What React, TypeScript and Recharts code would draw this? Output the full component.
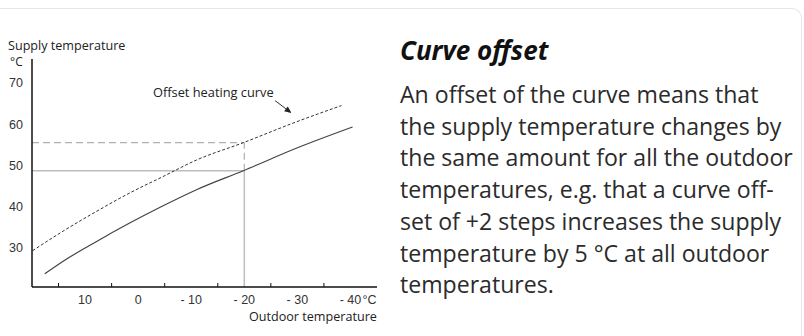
import { LineChart, Line, XAxis, YAxis, ReferenceLine } from 'recharts';

// heating curve, outdoor temp (°C) -> supply temp (°C)
const baseOutdoor = [17.6, 14.2, 7.9, 1.6, -4.7, -11.0, -19.8, -29.9, -40.4];
const baseSupply = [23.7, 26.7, 31.5, 36.0, 40.2, 44.1, 48.7, 54.2, 59.3];
const offsetOutdoor = [19.9, 14.2, 7.9, 1.6, -4.7, -11.0, -19.8, -29.9, -38.3];
const offsetSupply = [29.3, 34.0, 38.8, 43.3, 47.3, 51.3, 55.5, 60.6, 64.5];

const outdoorLabels = [10, 0, -10, -20, -30, -40];
const outdoorMarks = [15, 5, -5, -15, -25, -35];
const supplyTicks = [30, 40, 50, 60, 70];

const designOutdoor = -20;
const designSupply = 48.7;
const offsetDesignSupply = 55.5;
const arrowFrom = { x: -25.8, y: 65.7 };
const arrowTo = { x: -28.9, y: 62.7 };

const xDomain = [-45, 20];
const yDomain = [20.5, 75.8];

const textLines = [
  'An offset of the curve means that',
  'the supply temperature changes by',
  'the same amount for all the outdoor',
  'temperatures, e.g. that a curve off-',
  'set of +2 steps increases the supply',
  'temperature by 5 °C at all outdoor',
  'temperatures.',
];

const baseData = baseOutdoor.map((t, i) => ({ outdoor: t, supply: baseSupply[i] }));
const offsetData = offsetOutdoor.map((t, i) => ({ outdoor: t, supply: offsetSupply[i] }));

const uiFont = '"Open Sans", "Noto Sans", sans-serif';
const tickFont = '"Liberation Sans", Arial, sans-serif';
const tickSize = 12.5;

const OutdoorTick = (props: any) => {
  const { x, y, payload } = props;
  const v = payload.value;
  const txt = v === 0 ? '0' : v < 0 ? `- ${-v}` : `${v}`;
  return (
    <g>
      <text x={x} y={y} dy="0.71em" textAnchor="middle" fontSize={tickSize} fontFamily={tickFont} fill="#333">
        {txt}
      </text>
      {v === -40 && (
        <text x={x + 12} y={y} dy="0.71em" textAnchor="start" fontSize={tickSize} fontFamily={tickFont} fill="#333">
          °C
        </text>
      )}
    </g>
  );
};

const Arrow = (props: any) => {
  const { x1, y1, x2, y2 } = props;
  if (x1 == null) return null;
  const a = Math.atan2(y2 - y1, x2 - x1);
  const len = 7;
  const w = 3;
  const bx = x2 - len * Math.cos(a);
  const by = y2 - len * Math.sin(a);
  const px = -Math.sin(a) * w;
  const py = Math.cos(a) * w;
  return (
    <g>
      <line x1={x1} y1={y1} x2={bx} y2={by} stroke="#333" strokeWidth={1} />
      <polygon points={`${x2},${y2} ${bx + px},${by + py} ${bx - px},${by - py}`} fill="#222" />
    </g>
  );
};

const label = (text: string, left: number, top: number, size: number) => (
  <div
    style={{
      position: 'absolute',
      left,
      top,
      fontFamily: uiFont,
      fontSize: size,
      lineHeight: `${size}px`,
      color: '#222',
      whiteSpace: 'nowrap',
    }}
  >
    {text}
  </div>
);

export default function App() {
  return (
    <div style={{ position: 'fixed', left: 0, top: 0, width: 804, height: 336, background: '#fff', overflow: 'hidden' }}>
      <div
        style={{
          position: 'absolute',
          left: -20,
          top: 8,
          width: 821,
          height: 400,
          borderTop: '1px solid #e6e6e6',
          borderRight: '1px solid #e6e6e6',
          borderTopRightRadius: 10,
        }}
      />
      <div style={{ position: 'absolute', left: 0, top: 0, width: 380, height: 336, overflow: 'hidden' }}>
        <LineChart width={377} height={336} margin={{ top: 59, right: 0, left: 0, bottom: 0 }}>
          <YAxis
            type="number"
            domain={yDomain}
            ticks={supplyTicks}
            allowDataOverflow
            width={32}
            tickLine={false}
            tickSize={6}
            tickMargin={3}
            axisLine={{ stroke: '#111', strokeWidth: 1.5 }}
            tick={{ fontSize: tickSize, fontFamily: tickFont, fill: '#333' }}
          />
          <XAxis
            xAxisId="main"
            dataKey="outdoor"
            type="number"
            domain={xDomain}
            reversed
            allowDataOverflow
            ticks={outdoorLabels}
            interval={0}
            height={49}
            tickLine={false}
            axisLine={{ stroke: '#111', strokeWidth: 1.5 }}
            tick={<OutdoorTick />}
          />
          <XAxis
            xAxisId="marks"
            dataKey="outdoor"
            type="number"
            domain={xDomain}
            reversed
            allowDataOverflow
            ticks={outdoorMarks}
            interval={0}
            mirror
            axisLine={false}
            tickSize={4}
            tickLine={{ stroke: '#111', strokeWidth: 1 }}
            tickFormatter={() => ''}
          />
          <ReferenceLine
            xAxisId="main"
            segment={[{ x: 20, y: designSupply }, { x: designOutdoor, y: designSupply }]}
            stroke="#bdbdbd"
            strokeWidth={1.5}
          />
          <ReferenceLine
            xAxisId="main"
            segment={[{ x: designOutdoor, y: yDomain[0] }, { x: designOutdoor, y: designSupply }]}
            stroke="#bdbdbd"
            strokeWidth={1.5}
          />
          <ReferenceLine
            xAxisId="main"
            segment={[{ x: 20, y: offsetDesignSupply }, { x: designOutdoor, y: offsetDesignSupply }]}
            stroke="#b0b0b0"
            strokeWidth={1.2}
            strokeDasharray="7 4"
          />
          <ReferenceLine
            xAxisId="main"
            segment={[{ x: designOutdoor, y: designSupply }, { x: designOutdoor, y: offsetDesignSupply }]}
            stroke="#b0b0b0"
            strokeWidth={1.2}
            strokeDasharray="7 4"
          />
          <Line
            xAxisId="main"
            data={baseData}
            dataKey="supply"
            type="monotone"
            stroke="#444"
            strokeWidth={1.2}
            dot={false}
            isAnimationActive={false}
          />
          <Line
            xAxisId="main"
            data={offsetData}
            dataKey="supply"
            type="monotone"
            stroke="#333"
            strokeWidth={1}
            strokeDasharray="3 2"
            dot={false}
            isAnimationActive={false}
          />
          <ReferenceLine xAxisId="main" segment={[arrowFrom, arrowTo]} shape={<Arrow />} />
        </LineChart>
        {label('Supply temperature', 8, 40, 12.6)}
        {label('°C', 10, 56, 12)}
        {label('Offset heating curve', 153, 86, 12.8)}
        {label('Outdoor temperature', 249, 311, 12.6)}
      </div>
      <div
        style={{
          position: 'absolute',
          left: 400,
          top: 34,
          fontFamily: uiFont,
          fontSize: 26,
          lineHeight: '32px',
          fontWeight: 700,
          fontStyle: 'italic',
          color: '#111',
          whiteSpace: 'nowrap',
        }}
      >
        Curve offset
      </div>
      <div
        style={{
          position: 'absolute',
          left: 400,
          top: 79,
          fontFamily: uiFont,
          fontSize: 23.1,
          lineHeight: '31.7px',
          color: '#2b2b2b',
          whiteSpace: 'nowrap',
        }}
      >
        {textLines.map((t) => (
          <div key={t}>{t}</div>
        ))}
      </div>
    </div>
  );
}
